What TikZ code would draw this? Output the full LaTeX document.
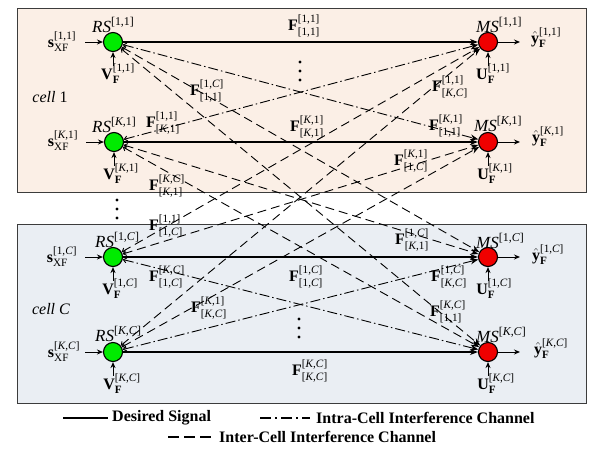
\documentclass[tikz,border=0pt]{standalone}
\usepackage{amsmath}
\usepackage{fontspec}
\setmainfont{Liberation Serif}
\usetikzlibrary{arrows.meta}
\definecolor{cellone}{RGB}{251,239,230}
\definecolor{celltwo}{RGB}{234,238,243}
\definecolor{rsgreen}{RGB}{0,235,0}
\definecolor{msred}{RGB}{240,0,0}
\definecolor{boxline}{RGB}{60,60,60}
\newcommand{\myK}{\textit{K}}
\newcommand{\myC}{\textit{C}}
\newcommand{\Fch}[2]{$\text{\bfseries F}^{\text{[#1]}}_{\text{[#2]}}$}
\begin{document}
\begin{tikzpicture}[x=1pt,y=-1pt,font=\fontsize{16}{18}\selectfont,
  rsnode/.style={circle,draw,line width=1.1pt,fill=rsgreen,minimum size=19pt,inner sep=0pt},
  msnode/.style={circle,draw,line width=1.1pt,fill=msred,minimum size=19pt,inner sep=0pt},
  lab/.style={inner sep=0pt},
  big/.style={font=\fontsize{17}{19}\selectfont},
  desired/.style={line width=1.2pt,-{Stealth[length=8pt,width=6pt]}},
  intra/.style={line width=0.9pt,dash pattern=on 10pt off 3pt on 1.5pt off 3pt,{Straight Barb[length=3pt,width=5pt]}-{Stealth[length=8pt,width=6pt]}},
  inter/.style={line width=0.9pt,dash pattern=on 9pt off 5pt,{Straight Barb[length=3pt,width=5pt]}-{Stealth[length=8pt,width=6pt]}},
  feed/.style={line width=1pt,-{Stealth[length=6pt,width=5pt]}},
  cellbox/.style={draw=boxline,line width=1pt},
  legtext/.style={anchor=west,inner sep=0pt,font=\fontsize{16}{18}\selectfont\bfseries}]
\useasboundingbox (0,0) rectangle (589,453);
\fill[white] (0,0) rectangle (589,453);
% cells
\path[cellbox,fill=cellone] (17,8) rectangle (586,192);
\path[cellbox,fill=celltwo] (17,224) rectangle (586,403);
\node[lab] (cell1) at (50,97) {\textit{cell} 1};
\node[lab] (cellC) at (51,309) {\textit{cell C}};
% nodes
\node[rsnode] (A) at (113,42) {};
\node[rsnode] (B) at (114,142) {};
\node[rsnode] (C) at (113,257) {};
\node[rsnode] (D) at (113,352) {};
\node[msnode] (a) at (488,42) {};
\node[msnode] (b) at (488,142) {};
\node[msnode] (c) at (488,257) {};
\node[msnode] (d) at (488,352) {};
% RS / MS labels
\node[lab,big,anchor=base west] (rsA) at (92,32) {$\text{\itshape RS}^{\text{[1,1]}}$};
\node[lab,big,anchor=base west] (rsB) at (92,132) {$\text{\itshape RS}^{\text{[\myK,1]}}$};
\node[lab,big,anchor=base west] (rsC) at (95,247) {$\text{\itshape RS}^{\text{[1,\myC]}}$};
\node[lab,big,anchor=base west] (rsD) at (95,341) {$\text{\itshape RS}^{\text{[\myK,\myC]}}$};
\node[lab,big,anchor=base west] (msA) at (476,32) {$\text{\itshape MS}^{\text{[1,1]}}$};
\node[lab,big,anchor=base west] (msB) at (474,131) {$\text{\itshape MS}^{\text{[\myK,1]}}$};
\node[lab,big,anchor=base west] (msC) at (476,248) {$\text{\itshape MS}^{\text{[1,\myC]}}$};
\node[lab,big,anchor=base west] (msD) at (476,342) {$\text{\itshape MS}^{\text{[\myK,\myC]}}$};
% inputs s
\node[lab] (sA) at (62,42) {$\text{\bfseries s}^{\text{[1,1]}}_{\text{XF}}$};
\node[lab] (sB) at (63,141) {$\text{\bfseries s}^{\text{[\myK,1]}}_{\text{XF}}$};
\node[lab] (sC) at (62,257) {$\text{\bfseries s}^{\text{[1,\myC]}}_{\text{XF}}$};
\node[lab] (sD) at (64,352) {$\text{\bfseries s}^{\text{[\myK,\myC]}}_{\text{XF}}$};
\coordinate (sAe) at (85,42);
\coordinate (sBe) at (86,142);
\coordinate (sCe) at (85,257);
\coordinate (sDe) at (85,352);
\draw[feed] (sAe) -- (A);
\draw[feed] (sBe) -- (B);
\draw[feed] (sCe) -- (C);
\draw[feed] (sDe) -- (D);
% V inputs
\node[lab] (vA) at (118,74) {$\text{\bfseries V}^{\text{[1,1]}}_{\text{\bfseries F}}$};
\node[lab] (vB) at (121,174) {$\text{\bfseries V}^{\text{[\myK,1]}}_{\text{\bfseries F}}$};
\node[lab] (vC) at (120,289) {$\text{\bfseries V}^{\text{[1,\myC]}}_{\text{\bfseries F}}$};
\node[lab] (vD) at (122,384) {$\text{\bfseries V}^{\text{[\myK,\myC]}}_{\text{\bfseries F}}$};
\coordinate (vAe) at (113,66);
\coordinate (vBe) at (114,166);
\coordinate (vCe) at (113,281);
\coordinate (vDe) at (113,376);
\draw[feed] (vAe) -- (A);
\draw[feed] (vBe) -- (B);
\draw[feed] (vCe) -- (C);
\draw[feed] (vDe) -- (D);
% U inputs
\node[lab] (uA) at (493,74) {$\text{\bfseries U}^{\text{[1,1]}}_{\text{\bfseries F}}$};
\node[lab] (uB) at (495,174) {$\text{\bfseries U}^{\text{[\myK,1]}}_{\text{\bfseries F}}$};
\node[lab] (uC) at (494,289) {$\text{\bfseries U}^{\text{[1,\myC]}}_{\text{\bfseries F}}$};
\node[lab] (uD) at (496,384) {$\text{\bfseries U}^{\text{[\myK,\myC]}}_{\text{\bfseries F}}$};
\coordinate (uAe) at (488,66);
\coordinate (uBe) at (488,166);
\coordinate (uCe) at (488,281);
\coordinate (uDe) at (488,376);
\draw[feed] (uAe) -- (a);
\draw[feed] (uBe) -- (b);
\draw[feed] (uCe) -- (c);
\draw[feed] (uDe) -- (d);
% outputs
\coordinate (yAe) at (520,42);
\coordinate (yBe) at (520,142);
\coordinate (yCe) at (520,257);
\coordinate (yDe) at (520,352);
\draw[feed] (a) -- (yAe);
\draw[feed] (b) -- (yBe);
\draw[feed] (c) -- (yCe);
\draw[feed] (d) -- (yDe);
\node[lab] (yA) at (546,38) {$\hat{\text{\bfseries y}}^{\text{[1,1]}}_{\text{\bfseries F}}$};
\node[lab] (yB) at (548,137) {$\hat{\text{\bfseries y}}^{\text{[\myK,1]}}_{\text{\bfseries F}}$};
\node[lab] (yC) at (548,255) {$\hat{\text{\bfseries y}}^{\text{[1,\myC]}}_{\text{\bfseries F}}$};
\node[lab] (yD) at (551,349) {$\hat{\text{\bfseries y}}^{\text{[\myK,\myC]}}_{\text{\bfseries F}}$};
% desired
\draw[desired] (A) -- (a);
\draw[desired] (B) -- (b);
\draw[desired] (C) -- (c);
\draw[desired] (D) -- (d);
% intra-cell
\draw[intra] (A) -- (b);
\draw[intra] (B) -- (a);
\draw[intra] (C) -- (d);
\draw[intra] (D) -- (c);
% inter-cell
\draw[inter] (A) -- (c);
\draw[inter] (A) -- (d);
\draw[inter] (B) -- (c);
\draw[inter] (B) -- (d);
\draw[inter] (C) -- (a);
\draw[inter] (C) -- (b);
\draw[inter] (D) -- (a);
\draw[inter] (D) -- (b);
% channel labels
\node[lab] (fAa) at (304,26) {\Fch{1,1}{1,1}};
\node[lab] (fBb) at (307,127) {\Fch{\myK,1}{\myK,1}};
\node[lab] (fCc) at (306,277) {\Fch{1,\myC}{1,\myC}};
\node[lab] (fDd) at (310,371) {\Fch{\myK,\myC}{\myK,\myC}};
\node[lab] (fAc) at (207,91) {\Fch{1,\myC}{1,1}};
\node[lab] (fBa) at (163,123) {\Fch{1,1}{\myK,1}};
\node[lab] (fBd) at (167,186) {\Fch{\myK,\myC}{\myK,1}};
\node[lab] (fDa) at (450,87) {\Fch{1,1}{\myK,\myC}};
\node[lab] (fAb) at (446,126) {\Fch{\myK,1}{1,1}};
\node[lab] (fCb) at (411,161) {\Fch{\myK,1}{1,\myC}};
\node[lab] (fCa) at (166,226) {\Fch{1,1}{1,\myC}};
\node[lab] (fCd) at (167,277) {\Fch{\myK,\myC}{1,\myC}};
\node[lab] (fDb) at (209,308) {\Fch{\myK,1}{\myK,\myC}};
\node[lab] (fBc) at (412,240) {\Fch{1,\myC}{\myK,1}};
\node[lab] (fDc) at (449,277) {\Fch{1,\myC}{\myK,\myC}};
\node[lab] (fAd) at (448,312) {\Fch{\myK,\myC}{1,1}};
% dots
\foreach \yy in {62,71,80} \fill (300,\yy) circle (1.6pt);
\foreach \yy in {319,328,337} \fill (299,\yy) circle (1.6pt);
\foreach \yy in {200,209,218} \fill (117,\yy) circle (1.6pt);
% legend
\coordinate (l1a) at (63,418);
\coordinate (l1b) at (108,418);
\coordinate (l2a) at (260,418);
\coordinate (l2b) at (310,418);
\coordinate (l3a) at (168,437);
\coordinate (l3b) at (213,437);
\draw[line width=1.2pt] (l1a) -- (l1b);
\draw[line width=1.2pt,dash pattern=on 11pt off 4pt on 2pt off 4pt] (l2a) -- (l2b);
\draw[line width=1.2pt,dash pattern=on 11pt off 5pt] (l3a) -- (l3b);
\node[legtext] (t1) at (112,418) {Desired Signal};
\node[legtext] (t2) at (316,418) {Intra-Cell Interference Channel};
\node[legtext] (t3) at (219,437) {Inter-Cell Interference Channel};
\end{tikzpicture}
\end{document}
